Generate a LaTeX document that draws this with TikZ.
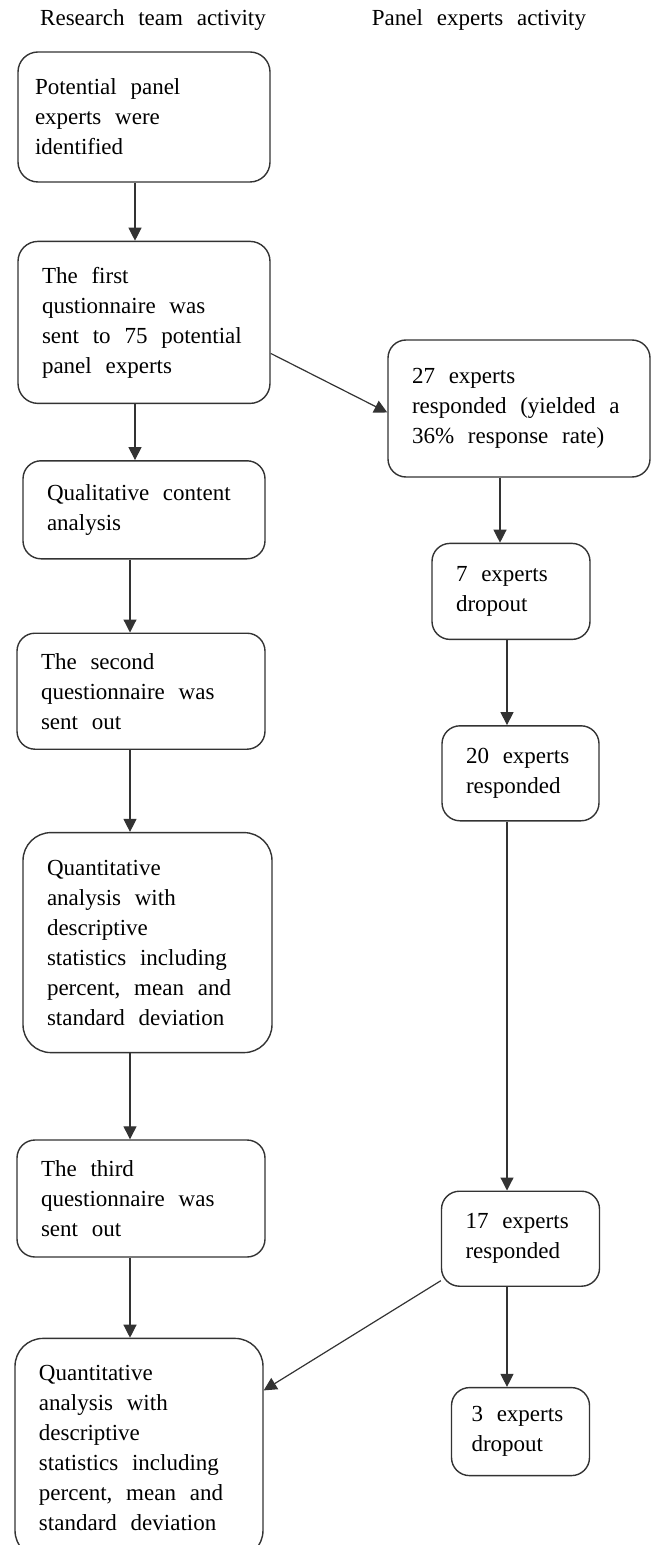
\documentclass[tikz,border=0pt]{standalone}
\usepackage{fontspec}
\setmainfont{Liberation Serif}[WordSpace=2.4]
\usetikzlibrary{positioning, arrows.meta}

\begin{document}
\begin{tikzpicture}
	[x=1pt, y=1pt, font=\fontsize{11.5}{15}\selectfont,
	 box/.style={draw=black!80, line width=0.7pt, rounded corners=9pt, align=flush left, inner xsep=12pt, inner ysep=0pt},
	 bigbox/.style={box, rounded corners=14pt},
	 flow/.style={color=black!80, line width=0.6pt, -{Triangle[length=6.5pt,width=6.5pt]}}]
   \useasboundingbox (0,0) rectangle (326,-772.5);
   \node (h_team) at (76.5,-10) {Research team activity};
   \node (h_panel) at (239.5,-10) {Panel experts activity};
   % research team column
   \node[box, rounded corners=10pt, inner xsep=8.5pt, text width=109pt, minimum height=65pt] (t_1) at (72,-58.5) {Potential panel\\experts were\\identified};
   \node[box, rounded corners=10pt, text width=102pt, minimum height=81pt] (t_2) [below=29pt of t_1] {The first\\qustionnaire was\\sent to 75 potential\\panel experts};
   \node[box, text width=97pt, minimum height=49pt] (t_3) [below=28pt of t_2] {Qualitative content\\analysis};
   \node[box, text width=100pt, minimum height=58pt] (t_4) [below=36.5pt of t_3, xshift=-1.5pt] {The second\\questionnaire was\\sent out};
   \node[bigbox, text width=100.5pt, minimum height=110pt] (t_5) [below=41pt of t_4, xshift=3.25pt] {Quantitative\\analysis with\\descriptive\\statistics including\\percent, mean and\\standard deviation};
   \node[box, text width=100pt, minimum height=58.5pt] (t_6) [below=43pt of t_5, xshift=-3.25pt] {The third\\questionnaire was\\sent out};
   \node[bigbox, text width=100pt, minimum height=110pt] (t_7) [below=40pt of t_6, xshift=-1pt] {Quantitative\\analysis with\\descriptive\\statistics including\\percent, mean and\\standard deviation};
   % panel experts column
   \node[box, text width=107pt, minimum height=68.5pt] (p_1) at (259.5,-204.25) {27 experts\\responded (yielded a\\36\% response rate)};
   \node[box, text width=55pt, minimum height=48pt] (p_2) [below=32.5pt of p_1, xshift=-4pt] {7 experts\\dropout};
   \node[box, text width=54.5pt, minimum height=47.5pt] (p_3) [below=42.5pt of p_2, xshift=4.75pt] {20 experts\\responded};
   \node[box, text width=55pt, minimum height=47.5pt] (p_4) [below=184.5pt of p_3] {17 experts\\responded};
   \node[box, inner xsep=10pt, text width=49pt, minimum height=44pt] (p_5) [below=50pt of p_4] {3 experts\\dropout};
   \coordinate (lane_a) at (67.5,0);
   \coordinate (lane_b) at (65,0);
   \coordinate (lane_c) at (250,0);
   \coordinate (lane_d) at (253.5,0);

    \path[flow]
    (t_1.south -| lane_a) edge (t_2.north -| lane_a)
    (t_2.south -| lane_a) edge (t_3.north -| lane_a)
    (t_3.south -| lane_b) edge (t_4.north -| lane_b)
    (t_4.south -| lane_b) edge (t_5.north -| lane_b)
    (t_5.south -| lane_b) edge (t_6.north -| lane_b)
    (t_6.south -| lane_b) edge (t_7.north -| lane_b)
    ([yshift=-15.5pt]t_2.east) edge ([yshift=-2pt]p_1.west)
    (p_1.south -| lane_c) edge (p_2.north -| lane_c)
    (p_2.south -| lane_d) edge (p_3.north -| lane_d)
    (p_3.south -| lane_d) edge (p_4.north -| lane_d)
    (p_4.south -| lane_d) edge (p_5.north -| lane_d)
    ([yshift=-21pt]p_4.west) edge ([yshift=29pt]t_7.east);
\end{tikzpicture}
\end{document}
